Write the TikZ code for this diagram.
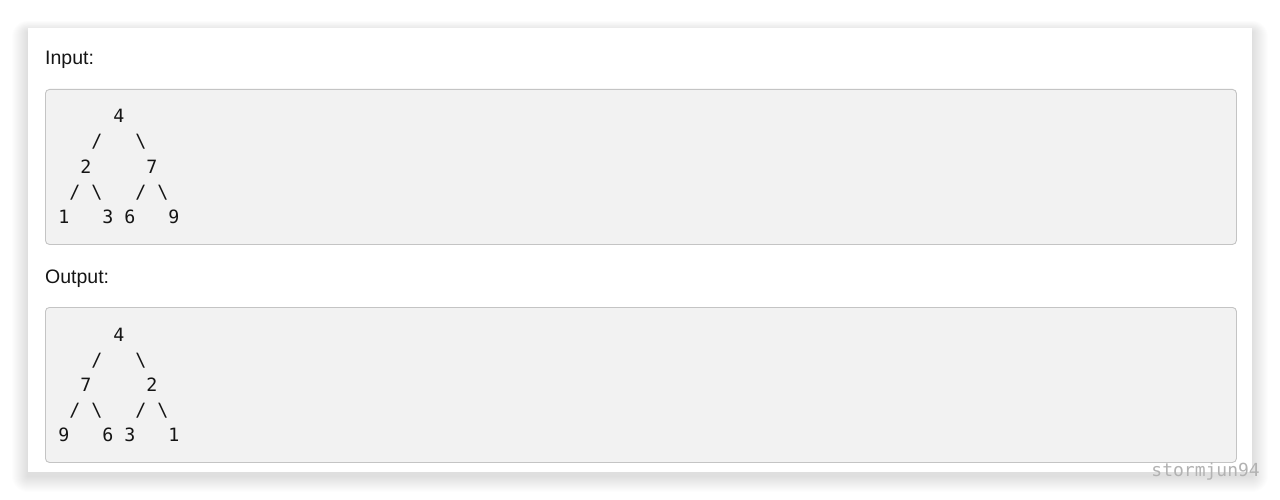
\documentclass[tikz,border=0pt]{standalone}
\usepackage{fontspec}
\setmainfont{Liberation Sans}
\newfontfamily\codefont{DejaVu Sans Mono}
\usetikzlibrary{positioning}

\definecolor{codebg}{HTML}{F2F2F2}
\definecolor{codeline}{HTML}{C4C4C4}
\definecolor{markgray}{HTML}{B2B2B2}
\definecolor{inkcol}{HTML}{151515}

\tikzset{
  caption/.style={anchor=base west, inner sep=0pt, text=inkcol,
    font=\fontsize{19.5}{22}\selectfont},
  codebox/.style={draw=codeline, fill=codebg, rounded corners=4pt,
    line width=0.9pt, anchor=north west, minimum width=1191pt,
    minimum height=155pt, inner sep=0pt},
  ch/.style={anchor=base, inner sep=0pt, text=inkcol,
    font=\codefont\fontsize{18.3}{20}\selectfont},
}

% albero in ascii: #1 prefisso, #2 linea di base della prima riga, #3 cifre
\newcommand{\asciitree}[3]{
  \foreach \c/\r/\d in {#3}
    \node[ch] (#1-\d) at (64+11*\c, #2+25*\r) {\d};
  \foreach \c/\r in {3/1, 1/3, 7/3}
    \node[ch] (#1-l\c\r) at (64+11*\c, #2+25*\r) {/};
  \foreach \c/\r in {7/1, 3/3, 9/3}
    \node[ch] (#1-r\c\r) at (64+11*\c, #2+25*\r) {\textbackslash};
}

\begin{document}
\begin{tikzpicture}[x=1pt, y=-1pt]
\useasboundingbox (0,0) rectangle (1280,500);

% ombra della scheda
\foreach \s in {1,...,16}
  \fill[black, opacity=0.009, rounded corners=\s pt]
    (28-\s, 32-0.7*\s) rectangle (1252+\s, 476+\s);

% scheda bianca
\fill[white] (28,28) rectangle (1252,472);

% Input
\node[caption] (incap) at (45,65) {Input:};
\node[codebox] (inbox) at (45,89) {};
\asciitree{in}{123}{5/0/4, 2/2/2, 8/2/7, 0/4/1, 4/4/3, 6/4/6, 10/4/9}

% Output
\node[caption] (outcap) at (45,283) {Output:};
\node[codebox] (outbox) at (45,307) {};
\asciitree{out}{341}{5/0/4, 2/2/7, 8/2/2, 0/4/9, 4/4/6, 6/4/3, 10/4/1}

% firma
\node[anchor=base east, inner sep=0pt, text=markgray,
  font=\codefont\fontsize{18}{20}\selectfont] (mark) at (1260,476) {stormjun94};

\end{tikzpicture}
\end{document}
